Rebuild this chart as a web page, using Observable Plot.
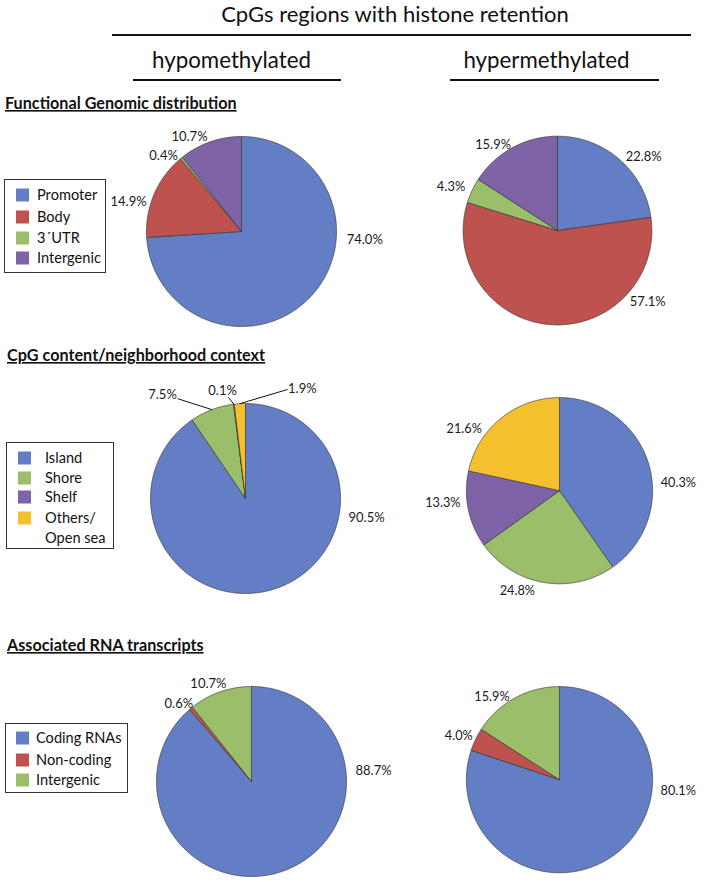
<!DOCTYPE html>
<html><head><meta charset="utf-8">
<script src="https://cdn.jsdelivr.net/npm/d3@7"></script>
<script src="https://cdn.jsdelivr.net/npm/@observablehq/plot@0.6"></script>
<style>
html,body{margin:0;padding:0;background:#fff;overflow:hidden;}
#fig{position:relative;width:706px;height:882px;overflow:hidden;background:#fff;font-family:Lato,"Open Sans",sans-serif;}
#fig .pie{position:absolute;}
#fig .pie svg{overflow:visible;background:transparent;}
#overlay{position:absolute;left:0;top:0;}
</style></head><body><div id="fig"></div>
<script>
// ---------- data ----------
const figureTitle = "CpGs regions with histone retention";
const columnTitles = ["hypomethylated", "hypermethylated"];
const sectionTitles = ["Functional Genomic distribution", "CpG content/neighborhood context", "Associated RNA transcripts"];

const functionalCategories = ["Promoter", "Body", "3´UTR", "Intergenic"];
const functionalHypo = [74.0, 14.9, 0.4, 10.7];
const functionalHyper = [22.8, 57.1, 4.3, 15.9];

const contextCategories = ["Island", "Shore", "Shelf", "Others/\nOpen sea"];
const contextHypo = [90.5, 7.5, 0.1, 1.9];
const contextHyper = [40.3, 24.8, 13.3, 21.6];

const rnaCategories = ["Coding RNAs", "Non-coding", "Intergenic"];
const rnaHypo = [88.7, 0.6, 10.7];
const rnaHyper = [80.1, 4.0, 15.9];

// ---------- styles ----------
const BLUE = "#637ec4", RED = "#bd524f", GREEN = "#9bbe6a", PURPLE = "#7e64a6", YELLOW = "#f5c02e";
const functionalColors = [BLUE, RED, GREEN, PURPLE];
const contextColors = [BLUE, GREEN, PURPLE, YELLOW];
const rnaColors = [BLUE, RED, GREEN];

// ---------- layout (pixels / label placement in pie-radius units) ----------
const R = 95;
const pies = [
  {values: functionalHypo, colors: functionalColors, cx: 241, cy: 231,
   labels: [[93.7, 1.30], [284.9, 1.23], [314.3, 1.146], [331.3, 1.14]]},
  {values: functionalHyper, colors: functionalColors, cx: 558, cy: 231,
   labels: [[49.6, 1.20], [128.4, 1.22], [292.4, 1.22], [323.2, 1.14]]},
  {values: contextHypo, colors: contextColors, cx: 245, cy: 498,
   labels: [[98.9, 1.29], [321.4, 1.40], [348, 1.16], [27.4, 1.30]],
   leaders: [null, [325.8, 1.27], [350.4, 1.08], [21.1, 1.23]]},
  {values: contextHyper, colors: contextColors, cx: 562, cy: 493,
   labels: [[86.2, 1.28], [202.9, 1.165], [263.8, 1.26], [303, 1.22]]},
  {values: rnaHypo, colors: rnaColors, cx: 251, cy: 781,
   labels: [[84.8, 1.29], [316.9, 1.12], [336.1, 1.12]]},
  {values: rnaHyper, colors: rnaColors, cx: 562, cy: 782,
   labels: [[95.2, 1.28], [293.6, 1.18], [320.9, 1.15]]}
];
const legends = [
  {cats: functionalCategories, colors: functionalColors, box: [4, 179, 101, 93], sx: 16, tx: 37, rows: [195, 217, 238, 258]},
  {cats: contextCategories, colors: contextColors, box: [6, 442, 107, 106], sx: 18, tx: 45, rows: [458, 478, 497, 518]},
  {cats: rnaCategories, colors: rnaColors, box: [5, 723, 122, 69], sx: 16, tx: 36, rows: [738, 760, 780]}
];

const fig = d3.select("#fig");

// ---------- overlay: titles, rules, legends ----------
const ov = fig.append("svg").attr("id", "overlay").attr("width", 706).attr("height", 882)
  .style("font-family", "Lato, 'Open Sans', sans-serif");
ov.append("text").attr("x", 395).attr("y", 22).attr("text-anchor", "middle")
  .attr("font-size", 22).attr("fill", "#111").text(figureTitle);
ov.append("line").attr("x1", 112).attr("x2", 691).attr("y1", 35).attr("y2", 35).attr("stroke", "#111").attr("stroke-width", 2);
[[231.5, 133, 341], [546.5, 450, 659]].forEach(([x, a, b], i) => {
  ov.append("text").attr("x", x).attr("y", 68).attr("text-anchor", "middle")
    .attr("font-size", 22.3).attr("fill", "#111").text(columnTitles[i]);
  ov.append("line").attr("x1", a).attr("x2", b).attr("y1", 80).attr("y2", 80).attr("stroke", "#111").attr("stroke-width", 2);
});
[[5, 109], [7, 361], [7, 651]].forEach(([x, y], i) => {
  ov.append("text").attr("x", x).attr("y", y).attr("font-size", 16.2).attr("font-weight", "bold")
    .attr("fill", "#111").style("text-decoration", "underline").text(sectionTitles[i]);
});
legends.forEach(L => {
  const [bx, by, bw, bh] = L.box;
  ov.append("rect").attr("x", bx + 0.5).attr("y", by + 0.5).attr("width", bw).attr("height", bh)
    .attr("fill", "#fff").attr("stroke", "#333").attr("stroke-width", 1);
  L.cats.forEach((c, i) => {
    const y = L.rows[i];
    ov.append("rect").attr("x", L.sx).attr("y", y - 6.5).attr("width", 13).attr("height", 13).attr("fill", L.colors[i]);
    const lines = c.split("\n");
    lines.forEach((t, j) => {
      ov.append("text").attr("x", L.tx).attr("y", y + j * 19.5).attr("dy", "0.35em")
        .attr("font-size", 14.6).attr("fill", "#111").text(t);
    });
  });
});

// ---------- pies ----------
const W = 300, H = 280;
const rad = d => d * Math.PI / 180;
pies.forEach(p => {
  const total = d3.sum(p.values);
  const pts = [];
  const mids = [];
  let cum = 0;
  p.values.forEach((v, i) => {
    const a0 = cum / total * 2 * Math.PI;
    cum += v;
    const a1 = cum / total * 2 * Math.PI;
    mids.push((a0 + a1) / 2);
    const n = Math.max(2, Math.ceil((a1 - a0) / (Math.PI / 360)));
    pts.push({s: i, c: p.colors[i], x: 0, y: 0});
    for (let k = 0; k <= n; ++k) {
      const a = a0 + (a1 - a0) * k / n;
      pts.push({s: i, c: p.colors[i], x: Math.sin(a), y: Math.cos(a)});
    }
    pts.push({s: i, c: p.colors[i], x: 0, y: 0});
  });
  const labels = p.values.map((v, i) => {
    const [t, d] = p.labels[i];
    return {text: v.toFixed(1) + "%", x: d * Math.sin(rad(t)), y: d * Math.cos(rad(t))};
  });
  const links = [];
  if (p.leaders) p.leaders.forEach((l, i) => {
    if (!l) return;
    const [t, d] = l;
    links.push({x1: d * Math.sin(rad(t)), y1: d * Math.cos(rad(t)), x2: Math.sin(mids[i]), y2: Math.cos(mids[i])});
  });
  const chart = Plot.plot({
    width: W, height: H, margin: 0,
    x: {domain: [-W / 2 / R, W / 2 / R], axis: null},
    y: {domain: [-H / 2 / R, H / 2 / R], axis: null},
    color: {type: "identity"},
    style: {background: "transparent", overflow: "visible"},
    marks: [
      Plot.line(pts, {x: "x", y: "y", z: "s", fill: "c", stroke: "#3b3b3b", strokeWidth: 0.7, strokeLinejoin: "round", curve: "linear"}),
      Plot.link(links, {x1: "x1", y1: "y1", x2: "x2", y2: "y2", stroke: "#111", strokeWidth: 1}),
      Plot.text(labels, {x: "x", y: "y", text: "text", fontSize: 13, fontFamily: "Lato, 'Open Sans', sans-serif", fill: "#1a1a1a"})
    ]
  });
  fig.append("div").attr("class", "pie")
    .style("left", (p.cx - W / 2) + "px").style("top", (p.cy - H / 2) + "px")
    .node().appendChild(chart);
});
</script></body></html>
